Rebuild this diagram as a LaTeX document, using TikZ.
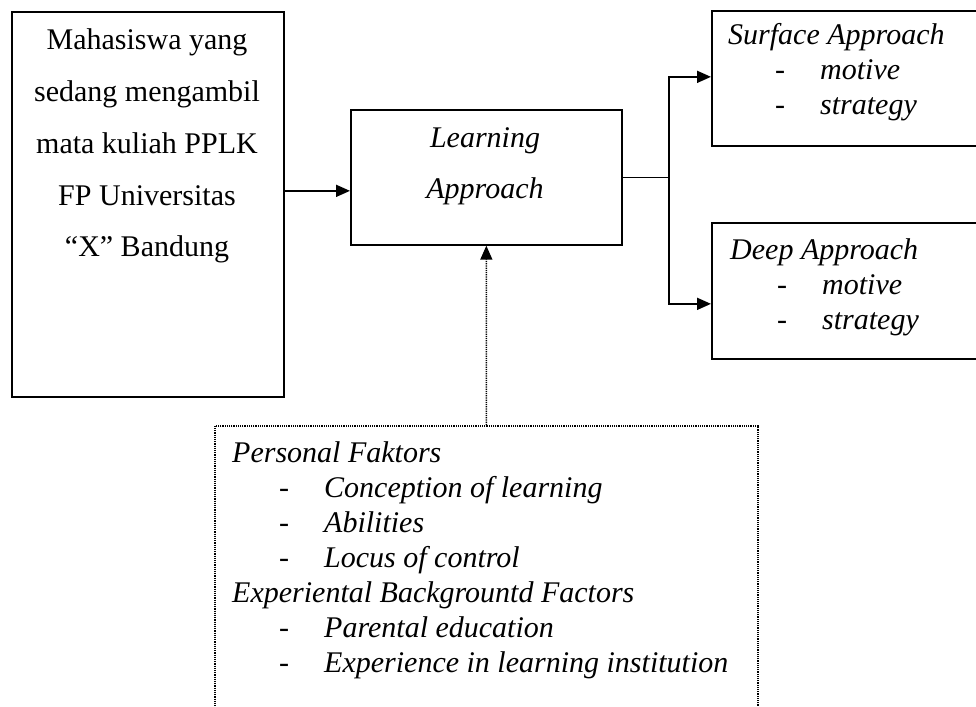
\documentclass[tikz,border=0pt]{standalone}
\usepackage{fontspec}
\setmainfont{Liberation Serif}
\usetikzlibrary{arrows.meta}
\newcommand{\itm}[1]{\hspace*{47pt}\makebox[45pt][l]{-}\textit{#1}}
\tikzset{
	box/.style={draw, line width=1.7pt, inner sep=0pt, anchor=north west},
	dotbox/.style={draw, line width=1.5pt, dash pattern=on 1.2pt off 1pt, inner sep=0pt, anchor=north west},
	txt/.style={inner sep=0pt, font=\fontsize{30}{35}\selectfont},
	arrow/.style={line width=1.7pt, -{Triangle[length=14pt,width=12pt]}},
	dotarrow/.style={line width=1.5pt, dash pattern=on 1.2pt off 1pt, -{Triangle[length=14pt,width=12pt]}}
}
\begin{document}
\begin{tikzpicture}[x=1pt, y=-1pt]
			%%%%% START %%%%%
			\clip (0, 0) rectangle (976, 706);
			
			\node[box, minimum width=272, minimum height=385] (student) at (11, 11) {};
			\node[box, minimum width=271, minimum height=135] (approach) at (350, 109) {};
			\node[box, minimum width=290, minimum height=135] (surface) at (711, 10) {};
			\node[box, minimum width=290, minimum height=136] (deep) at (711, 222) {};
			\node[dotbox, minimum width=543, minimum height=300] (factors) at (214, 425) {};
			
			\node[txt, anchor=base, font=\fontsize{30}{51.7}\selectfont] (studentText) at (147, 50) {\begin{tabular}[t]{@{}c@{}}
				Mahasiswa yang\\ sedang mengambil\\ mata kuliah PPLK\\ FP Universitas\\ ``X'' Bandung
			\end{tabular}};
			
			\node[txt, anchor=base, font=\fontsize{30}{51}\selectfont] (approachText) at (485, 147) {\begin{tabular}[t]{@{}c@{}}
				\textit{Learning}\\ \textit{Approach}
			\end{tabular}};
			
			\node[txt, anchor=base west] (surfaceText) at (728, 45) {\begin{tabular}[t]{@{}l@{}}
				\textit{Surface Approach}\\ \itm{motive}\\ \itm{strategy}
			\end{tabular}};
			
			\node[txt, anchor=base west] (deepText) at (730, 259) {\begin{tabular}[t]{@{}l@{}}
				\textit{Deep Approach}\\ \itm{motive}\\ \itm{strategy}
			\end{tabular}};
			
			\node[txt, anchor=base west] (factorsText) at (232, 462) {\begin{tabular}[t]{@{}l@{}}
				\textit{Personal Faktors}\\ \itm{Conception of learning}\\ \itm{Abilities}\\ \itm{Locus of control}\\
				\textit{Experiental Backgrountd Factors}\\ \itm{Parental education}\\ \itm{Experience in learning institution}
			\end{tabular}};
			
			\draw[arrow] ([yshift=-13.5pt]approach.west -| student.east) -- ([yshift=-13.5pt]approach.west);
			\draw[line width=1.7pt] (approach.east) -- ++(46, 0) coordinate (split);
			\draw[arrow] (split) |- ([yshift=1.5pt]surface.west);
			\draw[arrow] (split) |- ([yshift=-13pt]deep.west);
			\draw[dotarrow] (factors.north) -- (approach.south);
			%%%%% END %%%%%
\end{tikzpicture}
\end{document}
